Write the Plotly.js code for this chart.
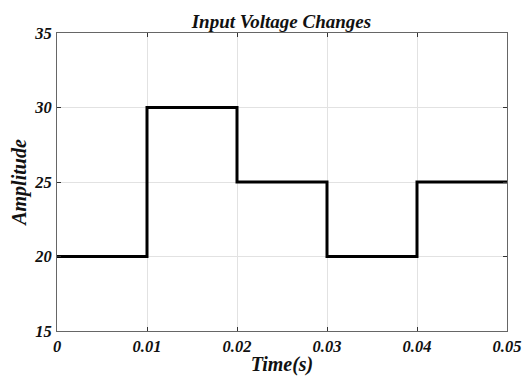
<!DOCTYPE html>
<html>
<head>
<meta charset="utf-8">
<script src="https://cdn.plot.ly/plotly-3.0.1.min.js"></script>
<style>
  html, body { margin: 0; padding: 0; background: #fff; }
  #chart { width: 531px; height: 376px; }
</style>
</head>
<body>
<div id="chart"></div>
<script>
// Step input: voltage level held from each time until the next
const timeS = [0, 0.01, 0.02, 0.03, 0.04, 0.05];
const voltage = [20, 30, 25, 20, 25, 25];
const xTicks = [0, 0.01, 0.02, 0.03, 0.04, 0.05];
const xTickText = ['0', '0.01', '0.02', '0.03', '0.04', '0.05'];
const yTicks = [15, 20, 25, 30, 35];

function serif(size) {
  return {family: '"Liberation Serif"', size: size, color: '#111', weight: 'bold', style: 'italic'};
}

const axisCommon = {
  showline: true, linecolor: '#666', linewidth: 1,
  mirror: 'ticks', ticks: 'inside', ticklen: 4, tickcolor: '#333', tickwidth: 1,
  showgrid: true, gridcolor: '#e2e2e2', gridwidth: 1,
  zeroline: false, tickfont: serif(16.5)
};

Plotly.newPlot('chart', [{
  x: timeS, y: voltage, type: 'scatter', mode: 'lines',
  line: {shape: 'hv', color: '#000', width: 3},
  hoverinfo: 'skip'
}], {
  width: 531, height: 376,
  margin: {l: 57, r: 24, t: 33, b: 45},
  paper_bgcolor: '#fff', plot_bgcolor: '#fff',
  showlegend: false,
  title: {text: 'Input Voltage Changes', font: serif(19), x: 0.53, xanchor: 'center', y: 0.943, yanchor: 'middle'},
  xaxis: Object.assign({}, axisCommon, {
    range: [0, 0.05], tickvals: xTicks, ticktext: xTickText,
    ticklabelstandoff: 0,
    title: {text: 'Time(s)', font: serif(20), standoff: 10}
  }),
  yaxis: Object.assign({}, axisCommon, {
    range: [15, 35], tickvals: yTicks, ticklabelstandoff: 1,
    title: {text: 'Amplitude', font: serif(20), standoff: 2}
  })
}, {displayModeBar: false, staticPlot: true});
</script>
</body>
</html>
